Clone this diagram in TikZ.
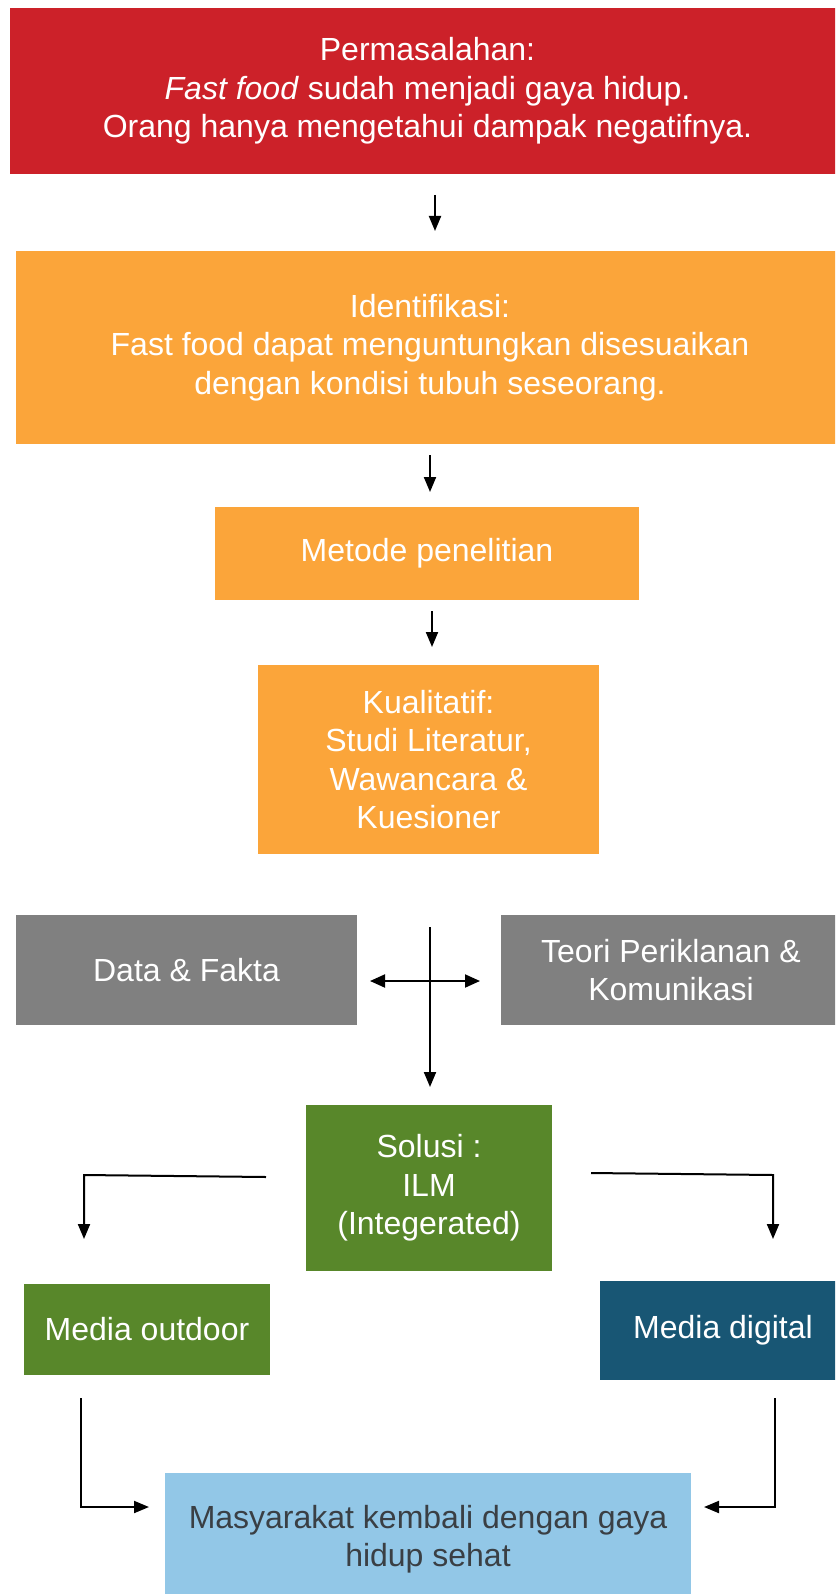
\documentclass[tikz,border=0pt]{standalone}
\usepackage{fontspec}
\setmainfont{Liberation Sans}
\usetikzlibrary{arrows.meta}
\definecolor{cred}{HTML}{CC2129}
\definecolor{corange}{HTML}{FBA53A}
\definecolor{cgray}{HTML}{808080}
\definecolor{cgreen}{HTML}{58872A}
\definecolor{cblue}{HTML}{185674}
\definecolor{clight}{HTML}{92C7E7}
\definecolor{ctext}{HTML}{3A3F44}
\tikzset{
  box/.style={rectangle, inner sep=0pt, align=center, text=white,
    font=\fontsize{32}{38.3}\selectfont},
  arr/.style={line width=2pt, -{Triangle[width=12pt,length=15pt]}},
  darr/.style={line width=2pt, {Triangle[width=13pt,length=15pt]}-{Triangle[width=13pt,length=15pt]}},
  ln/.style={line width=2pt}
}
\begin{document}
\begin{tikzpicture}[x=1pt,y=-1pt]
\useasboundingbox (0,0) rectangle (835,1594);
\clip (0,0) rectangle (835,1594);
\node[box, fill=cred, minimum width=835pt, minimum height=166pt] (perm) at (427.5,91)
  {Permasalahan:\\\textit{Fast food} sudah menjadi gaya hidup.\\Orang hanya mengetahui dampak negatifnya.};
\node[box, fill=corange, minimum width=828pt, minimum height=193pt] (iden) at (430,347.5)
  {Identifikasi:\\Fast food dapat menguntungkan disesuaikan\\dengan kondisi tubuh seseorang.};
\node[box, fill=corange, minimum width=424pt, minimum height=93pt] (meto) at (427,553.5)
  {Metode penelitian};
\node[box, fill=corange, minimum width=341pt, minimum height=189pt] (kual) at (428.5,759.5)
  {Kualitatif:\\Studi Literatur,\\Wawancara \&\\Kuesioner};
\node[box, fill=cgray, minimum width=341pt, minimum height=110pt] (data) at (186.5,970)
  {Data \& Fakta};
\node[box, fill=cgray, minimum width=340pt, minimum height=110pt] (teori) at (671,970)
  {Teori Periklanan \&\\Komunikasi};
\node[box, fill=cgreen, minimum width=246pt, minimum height=166pt] (sol) at (429,1188)
  {Solusi :\\ILM\\(Integerated)};
\node[box, fill=cgreen, minimum width=246pt, minimum height=91pt] (mout) at (147,1329.5)
  {Media outdoor};
\node[box, fill=cblue, minimum width=246pt, minimum height=99pt] (mdig) at (723,1330.5)
  {Media digital};
\node[box, fill=clight, text=ctext, minimum width=526pt, minimum height=132pt] (masy) at (428,1539)
  {Masyarakat kembali dengan gaya\\hidup sehat};
% arrow coordinates
\coordinate (a1s) at (435,195); \coordinate (a1e) at (435,231);
\coordinate (a2s) at (430,455); \coordinate (a2e) at (430,492);
\coordinate (a3s) at (432,611); \coordinate (a3e) at (432,647);
\coordinate (vs) at (430,927); \coordinate (ve) at (430,1087);
\coordinate (hl) at (370,981); \coordinate (hr) at (480,981);
\coordinate (ls) at (266,1177); \coordinate (lc) at (84,1175); \coordinate (le) at (84,1239);
\coordinate (rs) at (591,1173); \coordinate (rc) at (773,1175); \coordinate (re) at (773,1239);
\coordinate (bls) at (81,1398); \coordinate (blc) at (81,1507); \coordinate (ble) at (149,1507);
\coordinate (brs) at (775,1398); \coordinate (brc) at (775,1507); \coordinate (bre) at (704,1507);
\draw[arr] (a1s) -- (a1e);
\draw[arr] (a2s) -- (a2e);
\draw[arr] (a3s) -- (a3e);
\draw[arr] (vs) -- (ve);
\draw[darr] (hl) -- (hr);
\draw[arr] (ls) -- (lc) -- (le);
\draw[arr] (rs) -- (rc) -- (re);
\draw[arr] (bls) -- (blc) -- (ble);
\draw[arr] (brs) -- (brc) -- (bre);
\end{tikzpicture}
\end{document}
